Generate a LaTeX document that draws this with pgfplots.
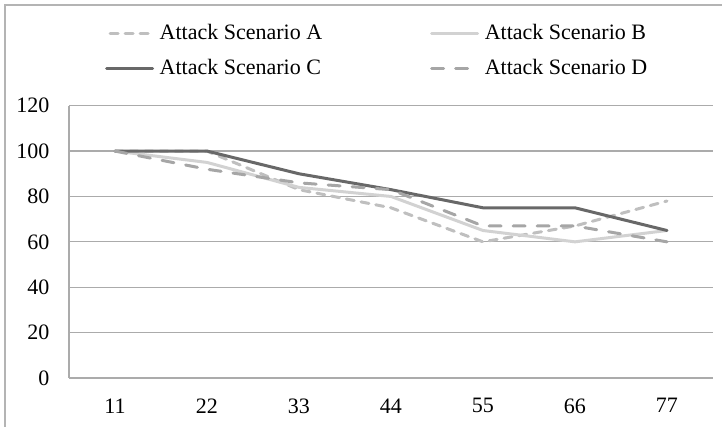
\documentclass[border=0pt]{standalone}
\usepackage{fontspec}
\setmainfont{Liberation Serif}
\usepackage{pgfplots}
\pgfplotsset{compat=1.18}

\definecolor{scA}{HTML}{BFBFBF}
\definecolor{scB}{HTML}{D2D2D2}
\definecolor{scC}{HTML}{686868}
\definecolor{scD}{HTML}{A6A6A6}
\definecolor{gridgray}{HTML}{ABABAB}
\definecolor{framegray}{HTML}{B4B4B4}

\begin{document}
\fontsize{11}{13}\selectfont
\begin{tikzpicture}
\useasboundingbox (0,0) rectangle (361pt,213.5pt);
% chart area frame (left and top edges)
\draw[framegray, line width=0.7pt] (2.5pt,-5pt) -- (2.5pt,211pt) -- (370pt,211pt);
\begin{axis}[
  at={(34.5pt,24.5pt)}, anchor=south west,
  scale only axis, width=322pt, height=136.15pt,
  xmin=-0.5, xmax=6.5, ymin=0, ymax=120,
  xtick={0,1,2,3,4,5,6},
  xticklabels={11,22,33,44,55,66,77},
  ytick={0,20,40,60,80,100,120},
  axis x line*=bottom, axis y line*=left,
  axis line style={gridgray, line width=0.6pt, -},
  ymajorgrids, major grid style={gridgray, line width=0.6pt},
  major tick length=0pt,
  /pgf/number format/assume math mode=true,
  ticklabel style={font=\fontsize{11}{13}\selectfont},
  yticklabel style={xshift=-6pt},
  xticklabel style={yshift=-6.4pt},
  legend columns=2,
  legend cell align=left,
  legend image code/.code={\draw[#1] (0pt,0pt) -- (23pt,0pt);},
  legend style={draw=none, fill=none, inner sep=0pt, outer sep=0pt,
    at={(0.056,1.2009)}, anchor=west, row sep=4.6pt,
    font=\fontsize{11}{13}\selectfont,
    /tikz/every odd column/.append style={column sep=0.8pt},
    /tikz/every even column/.append style={column sep=52pt}},
  every axis plot/.append style={line width=1.5pt, line cap=round},
]
\addplot[scA, dash pattern=on 4pt off 3.5pt, legend image post style={dash phase=5.75pt}]
  coordinates {(0,100) (1,100) (2,83) (3,75) (4,60) (5,67) (6,78)};
\addlegendentry{Attack Scenario A}
\addplot[scB] coordinates {(0,100) (1,95) (2,84) (3,80) (4,65) (5,60) (6,65)};
\addlegendentry{Attack Scenario B}
\addplot[scC] coordinates {(0,100) (1,100) (2,90) (3,83) (4,75) (5,75) (6,65)};
\addlegendentry{Attack Scenario C}
\addplot[scD, dash pattern=on 6pt off 6pt] coordinates {(0,100) (1,92) (2,86) (3,83) (4,67) (5,67) (6,60)};
\addlegendentry{Attack Scenario D}
\end{axis}
\end{tikzpicture}
\end{document}
